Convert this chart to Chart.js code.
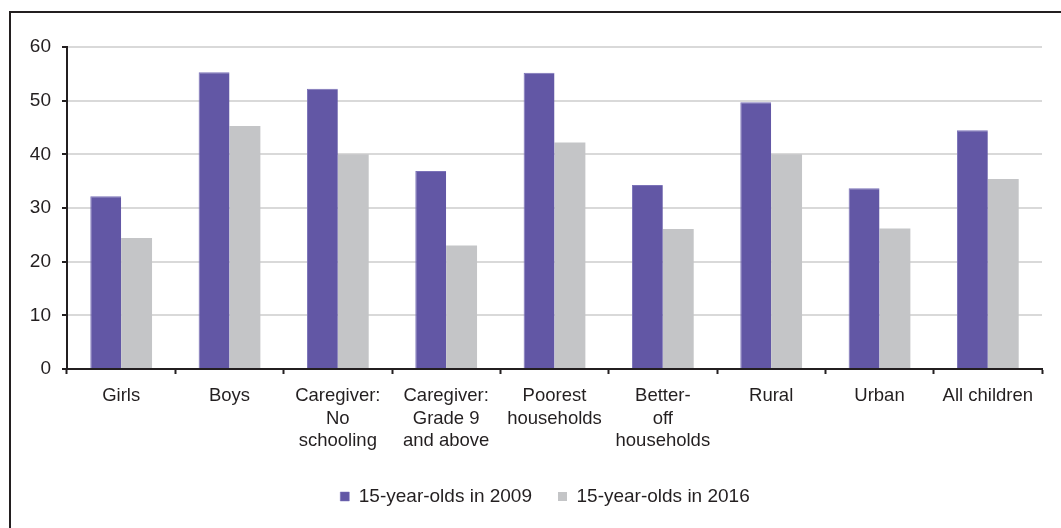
<!DOCTYPE html>
<html>
<head>
<meta charset="utf-8">
<script src="https://cdn.jsdelivr.net/npm/chart.js@4.4.1/dist/chart.umd.min.js"></script>
<style>
  html, body { margin: 0; padding: 0; background: #fff; overflow: hidden; }
  #wrap { position: relative; width: 1061px; height: 528px; }
  #frame {
    position: absolute; left: 9px; top: 11px; width: 1100px; height: 600px;
    border: 2px solid #231f20; box-sizing: border-box;
  }
  canvas { position: absolute; left: 0; top: 0; }
</style>
</head>
<body>
<div id="wrap">
  <div id="frame"></div>
  <canvas id="chart" width="1061" height="528"></canvas>
</div>
<script>
/* ---------------- DATA ---------------- */

const categories = [
  "Girls",
  "Boys",
  ["Caregiver:", "No", "schooling"],
  ["Caregiver:", "Grade 9", "and above"],
  ["Poorest", "households"],
  ["Better-", "off", "households"],
  "Rural",
  "Urban",
  "All children",
];

const seriesNames = ["15-year-olds in 2009", "15-year-olds in 2016"];

const values2009 = [32.2, 55.3, 52.2, 36.9, 55.2, 34.3, 49.7, 33.7, 44.5];
const values2016 = [24.4, 45.3, 40.0, 23.0, 42.2, 26.1, 40.0, 26.2, 35.4];

const yTicks = [0, 10, 20, 30, 40, 50, 60];

/* ---------------- CHART ---------------- */

const FONT = "'Liberation Sans', Arial, sans-serif";
const DARK = "#231f20";

// legend sits a bit right of the page centre in the original
const legendShift = {
  id: "legendShift",
  afterLayout(chart) {
    chart.legend.left += 48;
  },
};

const ctx = document.getElementById("chart").getContext("2d");

new Chart(ctx, {
  type: "bar",

  data: {
    labels: categories,
    datasets: [
      {
        label: seriesNames[0],
        data: values2009,
        backgroundColor: "#6257a5",
        borderColor: "#7b72b8",
        borderWidth: { top: 1, left: 1, right: 0, bottom: 0 },
        borderSkipped: "bottom",
      },
      {
        label: seriesNames[1],
        data: values2016,
        backgroundColor: "#c4c5c7",
      },
    ],
  },

  plugins: [legendShift],

  options: {
    responsive: false,
    animation: false,
    layout: { padding: { left: 0, right: 19, top: 47, bottom: 12 } },
    datasets: {
      bar: { categoryPercentage: 0.57, barPercentage: 1 },
    },
    plugins: {
      tooltip: { enabled: false },
      legend: {
        position: "bottom",
        labels: {
          boxWidth: 9,
          boxHeight: 9,
          padding: 26,
          color: DARK,
          font: { family: FONT, size: 19 },
        },
      },
    },
    scales: {
      x: {
        afterFit: (s) => { s.height = 92; },
        grid: {
          drawOnChartArea: false,
          drawTicks: true,
          tickLength: 5,
          tickColor: DARK,
          tickWidth: 2,
        },
        border: { color: DARK, width: 2 },
        ticks: {
          color: DARK,
          padding: 10,
          maxRotation: 0,
          autoSkip: false,
          font: { family: FONT, size: 18.5, lineHeight: 1.24 },
        },
      },
      y: {
        min: 0,
        max: 60,
        afterFit: (s) => { s.width = 67; },
        afterBuildTicks: (s) => { s.ticks = yTicks.map((v) => ({ value: v })); },
        grid: {
          color: "#d9d9d9",
          lineWidth: 2,
          tickLength: 5,
          tickColor: DARK,
          tickWidth: 2,
        },
        border: { color: DARK, width: 2 },
        ticks: {
          color: DARK,
          padding: 11,
          font: { family: FONT, size: 19 },
        },
      },
    },
  },
});
</script>
</body>
</html>
